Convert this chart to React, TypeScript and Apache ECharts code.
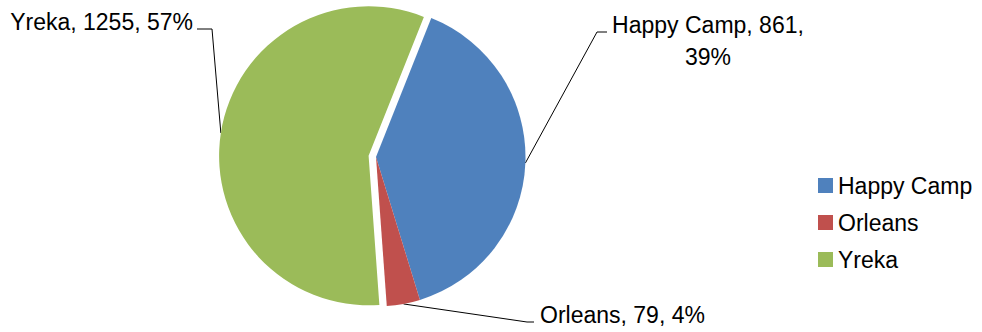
import React, { useEffect, useRef } from "react";
import * as echarts from "echarts";

const categories = ["Happy Camp", "Orleans", "Yreka"];
const values = [861, 79, 1255];
const colors = ["#4F81BD", "#C0504D", "#9BBB59"];
const explodedIndex = 2;

// label anchor placements (x, y, align) and leader line bends
const labelPlacements = [
  { x: 708, y: 41, align: "center", bend: [[597, 32], [607, 32]] },
  { x: 540, y: 315, align: "left", bend: [[527, 322], [534, 322]] },
  { x: 193, y: 22, align: "right", bend: [[212, 29], [197, 29]] },
];

export default function App() {
  const ref = useRef<HTMLDivElement>(null);
  useEffect(() => {
    document.body.style.margin = "0";
    const chart = echarts.init(ref.current!, null, { renderer: "svg" });
    const font = "'Liberation Sans', Arial, sans-serif";

    const makeSeries = (center: number[], visibleFn: (i: number) => boolean) => ({
      type: "pie",
      center,
      radius: 149.5,
      startAngle: 68.3,
      clockwise: true,
      percentPrecision: 0,
      emphasis: { disabled: true },
      data: categories.map((name, i) => {
        const vis = visibleFn(i);
        return {
          name,
          value: values[i],
          itemStyle: { color: vis ? colors[i] : "rgba(0,0,0,0)" },
          label: { show: vis },
          labelLine: { show: vis },
        };
      }),
      label: {
        show: true,
        position: "outside",
        overflow: "none",
        fontFamily: font,
        fontSize: 23,
        lineHeight: 32,
        color: "#000",
        formatter: (p: any) =>
          `${p.name}, ${p.value},${p.dataIndex === 0 ? "\n" : " "}${p.percent}%`,
      },
      labelLine: {
        show: true,
        lineStyle: { color: "#000", width: 1 },
      },
      labelLayout: (params: any) => {
        const pl = labelPlacements[params.dataIndex];
        const p0 = params.labelLinePoints ? params.labelLinePoints[0] : null;
        const out: any = {
          x: pl.x,
          y: pl.y,
          align: pl.align,
          verticalAlign: "middle",
        };
        if (p0) out.labelLinePoints = [p0, pl.bend[0], pl.bend[1]];
        return out;
      },
    });

    chart.setOption({
      animation: false,
      legend: {
        orient: "vertical",
        left: 813,
        top: 169,
        itemWidth: 15,
        itemHeight: 15,
        itemGap: 14,
        icon: "rect",
        data: categories.map((name, i) => ({ name, itemStyle: { color: colors[i] } })),
        textStyle: { fontFamily: font, fontSize: 23, color: "#000" },
      },
      series: [
        makeSeries([376, 157], (i) => i !== explodedIndex),
        makeSeries([368.6, 155.8], (i) => i === explodedIndex),
      ],
    });
    return () => chart.dispose();
  }, []);
  return <div ref={ref} style={{ width: 982, height: 332 }} />;
}
